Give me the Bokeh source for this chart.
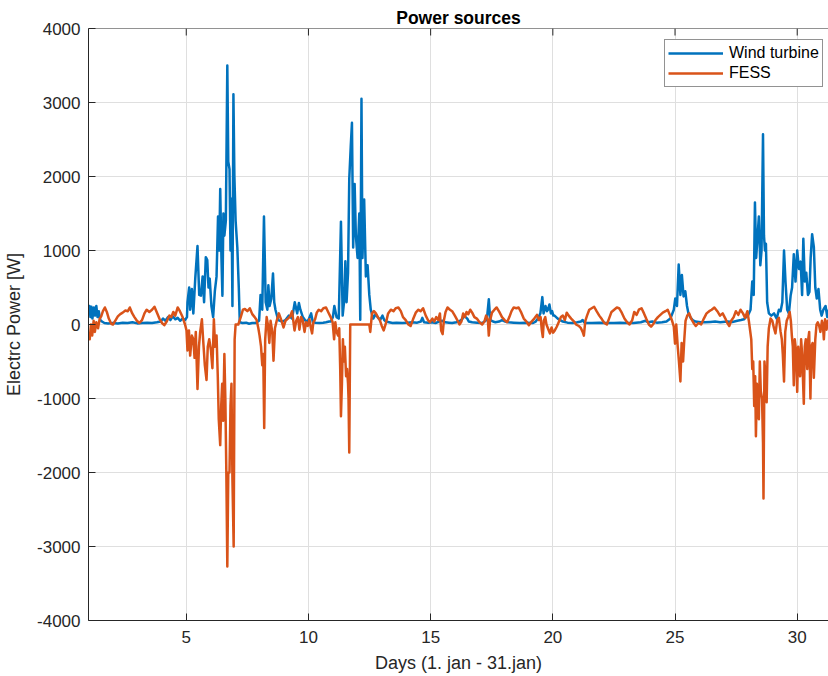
from bokeh.plotting import figure
from bokeh.models import Range1d, FixedTicker, Legend, LegendItem, Title, Span, PrintfTickFormatter
from bokeh.embed import file_html
from bokeh.resources import INLINE

# ---------------- data ----------------
wind_day = [
    1.00, 1.04, 1.08, 1.12, 1.16, 1.22, 1.27, 1.32, 1.37, 1.42, 1.48, 1.55, 1.65, 1.80, 2.00, 2.20, 2.40, 2.60,
    2.80, 3.00, 3.20, 3.40, 3.60, 3.80, 3.95, 4.05, 4.15, 4.25, 4.35, 4.45, 4.55, 4.65, 4.75, 4.85, 4.95,
    5.03, 5.05, 5.12, 5.16, 5.23, 5.29, 5.37, 5.46, 5.53, 5.60, 5.67, 5.73, 5.80, 5.86, 5.91, 5.96, 6.03,
    6.10, 6.17, 6.24, 6.30, 6.35, 6.39, 6.44, 6.48, 6.52, 6.56, 6.62, 6.68, 6.72, 6.77, 6.81, 6.85, 6.89,
    6.93, 6.97, 7.02, 7.09, 7.15, 7.19, 7.30, 7.45, 7.57, 7.70, 7.84, 7.98, 8.04, 8.11, 8.18, 8.25, 8.32,
    8.36, 8.41, 8.48, 8.55, 8.60, 8.65, 8.76, 8.93, 9.06, 9.20, 9.33, 9.44, 9.54, 9.61, 9.67, 9.77, 9.90,
    10.00, 10.11, 10.18, 10.30, 10.45, 10.60, 10.72, 10.85, 10.92, 11.00, 11.06, 11.15, 11.24, 11.33, 11.40,
    11.47, 11.51, 11.56, 11.62, 11.67, 11.73, 11.78, 11.83, 11.89, 11.94, 12.01, 12.08, 12.12, 12.17, 12.21,
    12.28, 12.35, 12.42, 12.49, 12.55, 12.65, 12.75, 12.83, 12.93, 13.03, 13.10, 13.17, 13.30, 13.44, 13.60,
    13.85, 14.05, 14.25, 14.45, 14.60, 14.66, 14.73, 14.90, 15.05, 15.20, 15.35, 15.48, 15.60, 15.75, 15.88,
    16.05, 16.20, 16.29, 16.36, 16.43, 16.50, 16.56, 16.70, 16.90, 17.11, 17.25, 17.31, 17.38, 17.42, 17.45,
    17.55, 17.65, 17.80, 17.92, 18.05, 18.19, 18.40, 18.64, 18.90, 19.19, 19.30, 19.39, 19.49, 19.57, 19.62,
    19.70, 19.76, 19.80, 19.86, 19.92, 19.97, 20.02, 20.07, 20.20, 20.30, 20.41, 20.60, 20.81, 21.00, 21.15,
    21.22, 21.28, 21.36, 21.60, 21.90, 22.17, 22.50, 22.75, 22.98, 23.30, 23.60, 23.79, 23.90, 24.07, 24.25,
    24.47, 24.65, 24.81, 24.95, 25.01, 25.08, 25.15, 25.22, 25.28, 25.35, 25.42, 25.49, 25.55, 25.62, 25.72,
    25.83, 26.05, 26.23, 26.45, 26.64, 26.85, 27.14, 27.35, 27.55, 27.70, 27.82, 27.90, 27.98, 28.09, 28.16,
    28.22, 28.27, 28.32, 28.38, 28.43, 28.49, 28.54, 28.60, 28.64, 28.68, 28.72, 28.77, 28.84, 28.94, 29.05,
    29.16, 29.25, 29.32, 29.39, 29.46, 29.52, 29.59, 29.66, 29.73, 29.79, 29.86, 29.93, 30.00, 30.07, 30.14,
    30.20, 30.25, 30.31, 30.37, 30.44, 30.50, 30.55, 30.61, 30.68, 30.74, 30.80, 30.87, 30.94, 31.00, 31.07,
    31.16, 31.23, 31.29,
]
wind_w = [
    150, 250, 100, 240, 80, 230, 120, 250, 100, 180, 60, 40, 20, 15, 20, 15, 25, 20,
    30, 15, 20, 25, 20, 30, 40, 80, 50, 100, 60, 110, 70, 90, 50, 80, 60,
    100, 300, 500, 200, 480, 150, 630, 1060, 400, 390, 650, 300, 910, 870, 500, 620, 250,
    100, 450, 650, 1460, 1000, 1830, 900, 390, 1500, 1200, 1400, 3500, 2200, 2100, 1000, 1700, 250,
    3110, 2000, 1400, 1040, 500, 30, 20, 25, 10, 20, 20, 50, 400, 200, 1460, 300, 200,
    530, 250, 350, 690, 300, 200, 60, 40, 60, 120, 80, 300, 150, 290, 200, 100, 40,
    60, 150, 30, 25, 20, 25, 30, 40, 40, 100, 250, 100, 80, 1390, 120,
    350, 855, 300, 700, 1970, 2400, 2725, 1040, 1900, 1200, 900, 1500, 65, 3050, 900,
    1690, 650, 800, 400, 200, 80, 140, 100, 60, 120, 60, 40, 30, 20, 25,
    20, 25, 30, 25, 40, 90, 30, 25, 30, 20, 40, 50, 30, 25, 20,
    30, 50, 70, 120, 100, 80, 40, 30, 25, 20, 50, 100, 340, 150, 60,
    40, 30, 40, 60, 40, 30, 25, 20, 25, 20, 40, 80, 150, 370, 150,
    250, 180, 200, 270, 150, 180, 120, 120, 80, 60, 40, 25, 20, 30, 40,
    60, 30, 20, 20, 25, 20, 20, 25, 20, 20, 30, 50, 30, 40, 25,
    30, 40, 80, 200, 350, 250, 810, 400, 670, 380, 450, 250, 150, 100, 60,
    40, 30, 30, 35, 40, 30, 40, 35, 50, 60, 70, 100, 120, 200, 580,
    400, 1650, 900, 1200, 1460, 800, 1000, 2570, 1200, 1000, 1090, 300, 150, 120, 150,
    80, 200, 180, 300, 1000, 580, 200, 150, 390, 500, 950, 580, 1000, 750, 850,
    400, 1160, 580, 700, 400, 440, 900, 1220, 1050, 500, 350, 480, 200, 120, 200,
    250, 100, 200,
]

fess_day = [
    1.00, 1.05, 1.10, 1.15, 1.21, 1.26, 1.32, 1.39, 1.46, 1.52, 1.59, 1.67, 1.75, 1.83, 1.93, 2.00, 2.11, 2.20,
    2.30, 2.40, 2.51, 2.61, 2.69, 2.79, 2.88, 2.98, 3.08, 3.19, 3.29, 3.38, 3.49, 3.60, 3.70, 3.79, 3.90,
    4.01, 4.10, 4.20, 4.31, 4.39, 4.47, 4.55, 4.65, 4.74, 4.85, 4.95,
    5.01, 5.05, 5.11, 5.16, 5.23, 5.29, 5.34, 5.39, 5.46, 5.52, 5.57, 5.64, 5.69, 5.76, 5.83, 5.88, 5.94,
    6.01, 6.07, 6.13, 6.18, 6.24, 6.29, 6.33, 6.39, 6.43, 6.47, 6.51, 6.56, 6.60, 6.64, 6.68, 6.72, 6.77,
    6.81, 6.85, 6.89, 6.94, 6.98, 7.02, 7.13, 7.23, 7.32, 7.40, 7.50, 7.60, 7.70, 7.80, 7.88, 7.95, 8.00,
    8.06, 8.11, 8.15, 8.19, 8.23, 8.29, 8.34, 8.40, 8.45, 8.52, 8.57, 8.63, 8.70, 8.79, 8.89, 8.98, 9.06,
    9.16, 9.25, 9.33, 9.43, 9.50, 9.57, 9.63, 9.70, 9.77, 9.84, 9.90, 9.97, 10.04, 10.10, 10.15, 10.20,
    10.27, 10.34, 10.42, 10.52, 10.61, 10.72, 10.82, 10.91, 10.99, 11.05, 11.10, 11.15, 11.21, 11.26, 11.30,
    11.33, 11.37, 11.41, 11.45, 11.49, 11.54, 11.58, 11.62, 11.64, 11.67, 11.71, 12.08, 12.49, 12.53, 12.60,
    12.68, 12.76, 12.84, 12.92, 13.00, 13.08, 13.17, 13.26, 13.37, 13.48, 13.57, 13.68, 13.78, 13.87, 13.98,
    14.09, 14.18, 14.28, 14.39, 14.50, 14.59, 14.69, 14.80, 14.89, 14.97, 15.07, 15.15, 15.23, 15.31, 15.38,
    15.43, 15.49, 15.54, 15.61, 15.69, 15.79, 15.88, 15.99, 16.09, 16.18, 16.26, 16.33, 16.40, 16.47, 16.54,
    16.62, 16.70, 16.79, 16.89, 17.00, 17.11, 17.20, 17.27, 17.34, 17.38, 17.43, 17.51, 17.61, 17.70, 17.81,
    17.92, 18.03, 18.13, 18.22, 18.31, 18.40, 18.51, 18.60, 18.71, 18.81, 18.92, 19.02, 19.13, 19.24, 19.35,
    19.43, 19.50, 19.55, 19.59, 19.63, 19.69, 19.74, 19.81, 19.88, 19.95, 20.01, 20.08, 20.16, 20.24, 20.33,
    20.41, 20.49, 20.57, 20.65, 20.75, 20.84, 20.95, 21.06, 21.15, 21.22, 21.27, 21.33, 21.40, 21.49, 21.59,
    21.69, 21.79, 21.90, 22.01, 22.11, 22.21, 22.30, 22.40, 22.51, 22.62, 22.71, 22.82, 22.93, 23.04, 23.14,
    23.25, 23.33, 23.43, 23.52, 23.63, 23.73, 23.82, 23.93, 24.02, 24.12, 24.20, 24.30, 24.40, 24.50, 24.61,
    24.70, 24.80, 24.88, 24.95, 25.00, 25.05, 25.11, 25.16, 25.22, 25.27, 25.33, 25.38, 25.43, 25.50, 25.58,
    25.66, 25.76, 25.85, 25.96, 26.07, 26.18, 26.29, 26.40, 26.50, 26.61, 26.73, 26.84, 26.95, 27.06, 27.14,
    27.22, 27.30, 27.40, 27.49, 27.59, 27.68, 27.78, 27.87, 27.96, 28.02, 28.08, 28.12, 28.16, 28.20, 28.24,
    28.28, 28.31, 28.35, 28.39, 28.43, 28.47, 28.51, 28.56, 28.60, 28.62, 28.66, 28.71, 28.75, 28.79, 28.84,
    28.91, 28.98, 29.05, 29.11, 29.18, 29.25, 29.32, 29.37, 29.41, 29.46, 29.51, 29.57, 29.63, 29.69, 29.74,
    29.78, 29.82, 29.86, 29.90, 29.95, 30.00, 30.04, 30.08, 30.12, 30.16, 30.20, 30.27, 30.31, 30.35, 30.41,
    30.45, 30.49, 30.54, 30.58, 30.63, 30.68, 30.74, 30.79, 30.84, 30.90, 30.95, 31.01, 31.05, 31.09, 31.14,
    31.20, 31.25, 31.29,
]
fess_w = [
    -100, -200, 0, -150, 50, -100, 30, -50, 80, 110, 180, 230, 170, 80, 10, 0, 60, 110,
    140, 160, 190, 180, 230, 150, 100, 50, 20, 60, 150, 200, 170, 200, 240, 170, 80,
    20, -10, 40, 120, 100, 170, 120, 230, 180, 100, 0,
    -80, -350, -80, -420, -150, -200, -450, -100, -870, -300, -100, 70, -200, -550, -750, -300, -200,
    -350, -590, 70, -300, -150, -700, -1280, -1630, -1100, -800, -1300, -400, -1000, -2000, -3270, -2000, -2000,
    -1100, -800, -2100, -3000, -200, 0, 0, 100, 200, 210, 180, 220, 140, 100, 60, -50, -150,
    -300, -550, -400, -1400, -200, 100, 0, -250, 50, -100, -490, -50, 50, 150, 60, -40, 50,
    80, 110, 180, -80, 50, 100, -70, 100, 50, -100, 30, -20, 70, -50, -120, 30,
    70, 160, 200, 180, 220, 230, 160, 100, 30, -200, 30, -100, -150, -50, -600,
    -1240, -800, -200, -500, -300, -700, -600, -800, -1000, -1730, 0, 0, 0, -100, 150,
    180, 150, 100, 60, -20, -80, 20, 150, 200, 180, 220, 230, 180, 100, 60,
    0, -20, 70, 160, 200, 180, 220, 120, 60, 30, 80, 40, 100, 60, 150,
    -80, -130, 50, 170, 230, 200, 180, 120, 60, 0, 40, 150, 100, 170, 140,
    200, 160, 100, 80, 30, 0, 40, 120, 70, -150, 50, 160, 200, 230, 170,
    100, 60, 30, 100, 180, 230, 220, 230, 160, 80, 40, -10, 40, 80, 130,
    60, 100, -80, -170, 50, 100, 0, -60, -120, -40, -110, -80, -30, 30, 100,
    120, 60, 160, 120, 80, 50, 0, -20, -50, -100, -150, 50, 120, 200, 220,
    240, 180, 120, 70, 20, 0, 80, 170, 200, 230, 220, 160, 80, 30, 0,
    60, 170, 130, 200, 220, 150, 80, 0, -30, 10, 60, 100, 130, 160, 180,
    200, 120, 50, -30, -260, 0, -300, -500, -770, -250, -500, -200, 50, 120, 150,
    80, 20, -20, 20, 0, 80, 150, 180, 200, 230, 180, 120, 150, 80, 20,
    -20, 50, 100, 180, 130, 200, 150, 90, 180, 50, -100, -200, -600, -500, -1100,
    -700, -1510, -800, -1100, -1280, -500, -900, -1000, -1600, -2350, -500, -750, -1050, -300, -50,
    80, 50, -50, -120, 60, 90, -100, -200, -400, -770, -100, 50, 100, 170, 50,
    -150, -300, -820, -200, -350, -910, -300, -500, -700, -200, -400, -1070, -300, -200, -600,
    -200, -100, -1000, -300, -250, -720, -200, 0, 30, -20, -100, 50, 0, -200, 70,
    -70, 50, -20,
]

x_ticks = [5, 10, 15, 20, 25, 30]
y_ticks = [-4000, -3000, -2000, -1000, 0, 1000, 2000, 3000, 4000]
series_names = ["Wind turbine", "FESS"]

# ---------------- styling ----------------
FONT = "Liberation Sans"
TXT = "#262626"
BLUE = "#0072BD"
ORANGE = "#D95319"
Y_LO, Y_HI = -4000, 4000

p = figure(width=828, height=676, output_backend="svg", toolbar_location=None,
           x_range=Range1d(1.0, 31.28), y_range=Range1d(Y_LO, Y_HI),
           min_border_left=88, min_border_right=0, min_border_top=28, min_border_bottom=56,
           background_fill_color="white", border_fill_color="white")

p.title = Title(text="Power sources", align="center", text_font=FONT, text_font_size="17.5px",
                text_font_style="bold", text_color="black", standoff=2, offset=0)

p.outline_line_color = None

for ax in (p.xaxis[0], p.yaxis[0]):
    ax.axis_line_color = TXT
    ax.axis_line_width = 1
    ax.major_tick_line_color = TXT
    ax.major_tick_in = 7
    ax.major_tick_out = 0
    ax.minor_tick_line_color = None
    ax.major_label_text_font = FONT
    ax.major_label_text_font_size = "17px"
    ax.major_label_text_color = TXT
    ax.axis_label_text_font = FONT
    ax.axis_label_text_font_size = "18px"
    ax.axis_label_text_font_style = "normal"
    ax.axis_label_text_color = TXT

p.xaxis.ticker = FixedTicker(ticks=x_ticks)
p.yaxis.ticker = FixedTicker(ticks=y_ticks)
p.yaxis.formatter = PrintfTickFormatter(format="%d")
p.xaxis.axis_label = "Days (1. jan - 31.jan)"
p.yaxis.axis_label = "Electrc Power [W]"
p.xaxis.major_label_standoff = 10
p.xaxis.axis_label_standoff = 7
p.yaxis.major_label_standoff = 8
p.yaxis.axis_label_standoff = 10

# top border line of the axes box and inward ticks at the x tick positions
p.add_layout(Span(location=Y_HI, dimension="width", line_color=TXT, line_width=1))
tick_len = (Y_HI - Y_LO) * 7 / 592.0
p.segment(x0=x_ticks, y0=[Y_HI] * len(x_ticks), x1=x_ticks, y1=[Y_HI - tick_len] * len(x_ticks),
          line_color=TXT, line_width=1)

p.xgrid.grid_line_color = "#DFDFDF"
p.ygrid.grid_line_color = "#DFDFDF"
p.xgrid.grid_line_width = 1
p.ygrid.grid_line_width = 1

r1 = p.line(wind_day, wind_w, line_color=BLUE, line_width=2.5, line_join="round")
r2 = p.line(fess_day, fess_w, line_color=ORANGE, line_width=2.5, line_join="round")

legend = Legend(items=[LegendItem(label=series_names[0], renderers=[r1]),
                       LegendItem(label=series_names[1], renderers=[r2])],
                location=(576, 533), orientation="vertical")
legend.label_text_font = FONT
legend.label_text_font_size = "16px"
legend.label_text_color = "black"
legend.glyph_width = 55
legend.glyph_height = 20
legend.label_height = 20
legend.label_standoff = 6
legend.padding = 3
legend.spacing = 0
legend.margin = 0
legend.border_line_color = TXT
legend.border_line_width = 1
legend.background_fill_color = "white"
legend.background_fill_alpha = 1
p.add_layout(legend, "center")

open("out.html", "w").write(file_html(p, INLINE))
